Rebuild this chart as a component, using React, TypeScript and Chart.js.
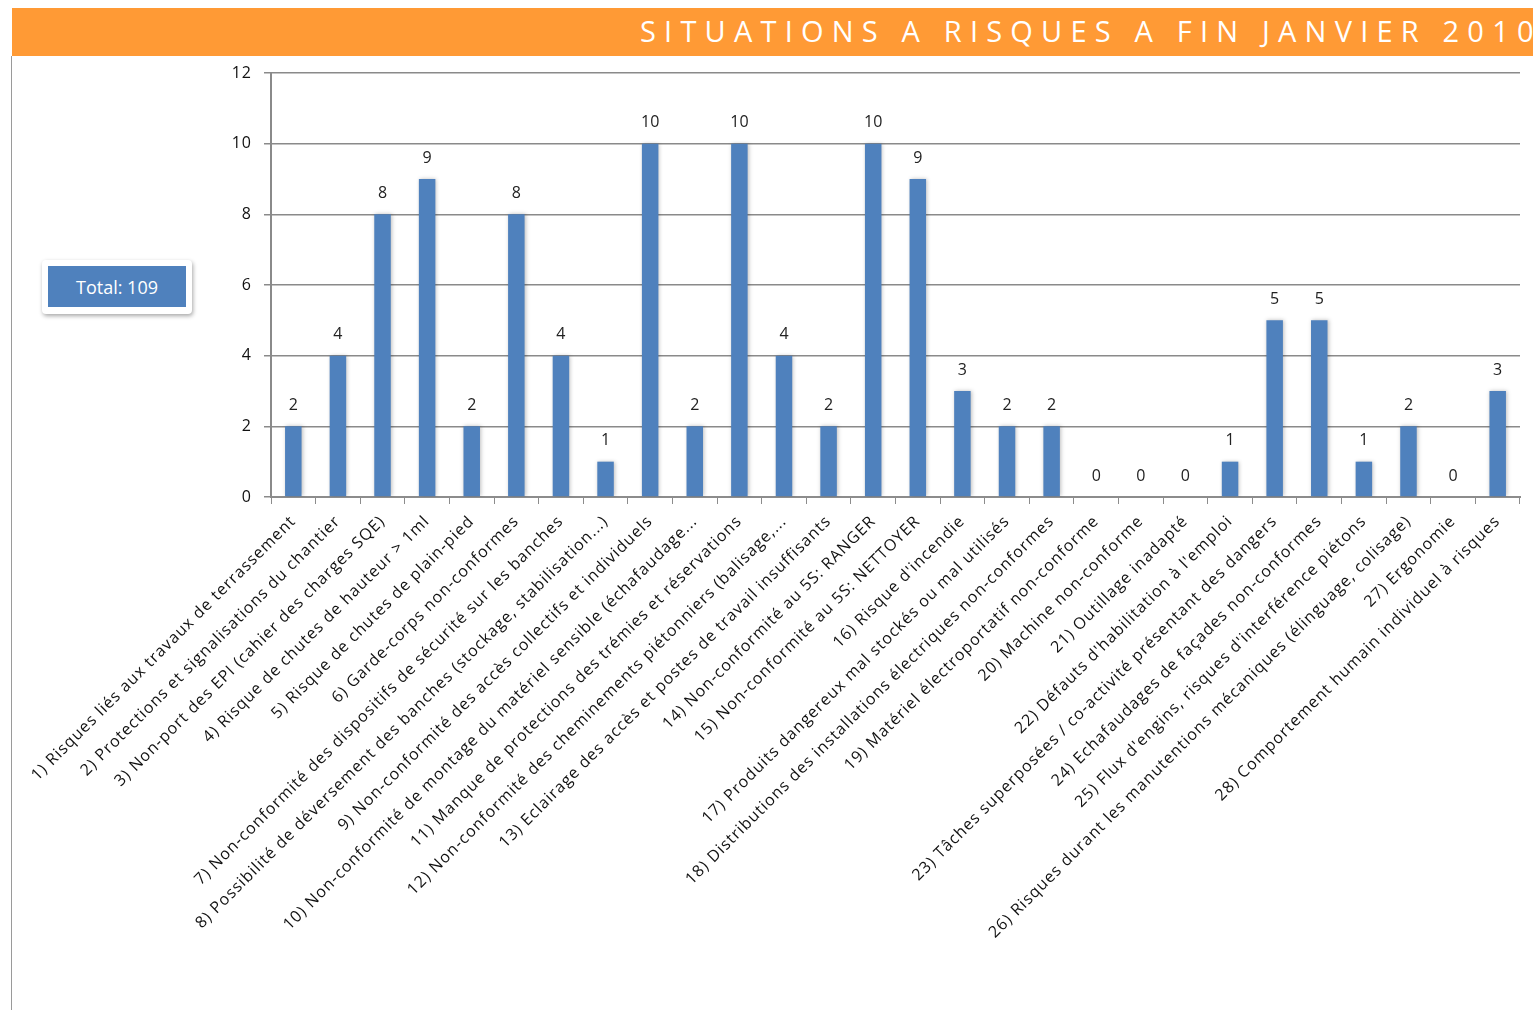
import React, { useEffect, useRef } from "react";
import { Chart, registerables } from "chart.js";
Chart.register(...registerables);

const title = "SITUATIONS A RISQUES A FIN JANVIER 2010";
const totalLabel = "Total: 109";

const categories = [
  "1) Risques liés aux travaux de terrassement",
  "2) Protections et signalisations du chantier",
  "3) Non-port des EPI (cahier des charges SQE)",
  "4) Risque de chutes de hauteur > 1ml",
  "5) Risque de chutes de plain-pied",
  "6) Garde-corps non-conformes",
  "7) Non-conformité des dispositifs de sécurité sur les banches",
  "8) Possibilité de déversement des banches (stockage, stabilisation...)",
  "9) Non-conformité des accès collectifs et individuels",
  "10) Non-conformité de montage du matériel sensible (échafaudage...",
  "11) Manque de protections des trémies et réservations",
  "12) Non-conformité des cheminements piétonniers (balisage,...",
  "13) Eclairage des accès et postes de travail insuffisants",
  "14) Non-conformité au 5S: RANGER",
  "15) Non-conformité au 5S: NETTOYER",
  "16) Risque d'incendie",
  "17) Produits dangereux mal stockés ou mal utilisés",
  "18) Distributions des installations électriques non-conformes",
  "19) Matériel électroportatif non-conforme",
  "20) Machine non-conforme",
  "21) Outillage inadapté",
  "22) Défauts d'habilitation à l'emploi",
  "23) Tâches superposées / co-activité présentant des dangers",
  "24) Echafaudages de façades non-conformes",
  "25) Flux d'engins, risques d'interférence piétons",
  "26) Risques durant les manutentions mécaniques (élinguage, colisage)",
  "27) Ergonomie",
  "28) Comportement humain individuel à risques",
];

const values = [2, 4, 8, 9, 2, 8, 4, 1, 10, 2, 10, 4, 2, 10, 9, 3, 2, 2, 0, 0, 0, 1, 5, 5, 1, 2, 0, 3];

const yMin = 0;
const yMax = 12;
const yStep = 2;

const FONT = "'Open Sans', sans-serif";

const spacingPlugin = {
  id: "letterSpacing",
  beforeUpdate(chart: any) {
    (chart.ctx as any).letterSpacing = "1px";
  },
  beforeDraw(chart: any) {
    (chart.ctx as any).letterSpacing = "1px";
  },
};

const valueLabelPlugin = {
  id: "valueLabels",
  beforeDatasetsDraw(chart: any) {
    const ctx = chart.ctx;
    ctx.save();
    ctx.shadowColor = "rgba(0,0,0,0.25)";
    ctx.shadowBlur = 4;
    ctx.shadowOffsetX = 1;
    ctx.shadowOffsetY = 0;
  },
  afterDatasetsDraw(chart: any) {
    const ctx = chart.ctx;
    ctx.restore();
    ctx.save();
    (ctx as any).letterSpacing = "0px";
    ctx.font = `16px ${FONT}`;
    ctx.fillStyle = "#222";
    ctx.textAlign = "center";
    ctx.textBaseline = "middle";
    const meta = chart.getDatasetMeta(0);
    meta.data.forEach((bar: any, i: number) => {
      ctx.fillText(String(values[i]), bar.x, bar.y - 21);
    });
    ctx.restore();
  },
};

export default function App() {
  const ref = useRef<HTMLCanvasElement>(null);
  useEffect(() => {
    if (!ref.current) return;
    const chart = new Chart(ref.current, {
      type: "bar",
      data: {
        labels: categories,
        datasets: [
          {
            data: values,
            backgroundColor: "#4F81BD",
            borderWidth: 0,
            barPercentage: 0.37,
            categoryPercentage: 1,
          },
        ],
      },
      options: {
        responsive: false,
        animation: false,
        devicePixelRatio: 1,
        layout: { padding: { top: 17, right: 13, left: 0, bottom: 0 } },
        plugins: { legend: { display: false }, tooltip: { enabled: false }, title: { display: false } },
        scales: {
          x: {
            offset: true,
            grid: { display: true, drawOnChartArea: false, drawTicks: true, tickLength: 7, color: "#8c8c8c", lineWidth: 1 },
            border: { display: true, color: "#8c8c8c", width: 2 },
            ticks: {
              autoSkip: false,
              maxRotation: 45,
              minRotation: 45,
              color: "#111",
              font: { family: FONT, size: 16 },
              padding: 8,
            },
            afterFit: (scale: any) => {
              scale.height = 513;
            },
          },
          y: {
            min: yMin,
            max: yMax,
            ticks: { stepSize: yStep, color: "#111", font: { family: FONT, size: 16 }, padding: 12 },
            grid: { color: "#8a8a8a", lineWidth: 1.5, tickLength: 7, drawTicks: true },
            border: { display: true, color: "#8a8a8a", width: 2 },
            afterFit: (scale: any) => {
              scale.width = 259;
              scale.paddingTop = 0;
              scale.paddingBottom = 0;
            },
          },
        },
      },
      plugins: [spacingPlugin, valueLabelPlugin],
    });
    return () => chart.destroy();
  }, []);

  return (
    <div
      style={{
        position: "fixed",
        left: 0,
        top: 0,
        width: 1533,
        height: 1010,
        overflow: "hidden",
        background: "#fff",
      }}
    >
      <div
        style={{
          position: "absolute",
          left: 12,
          top: 8,
          width: 1521,
          height: 48,
          background: "#FF9A35",
          overflow: "hidden",
        }}
      >
        <div
          style={{
            position: "absolute",
            left: 628,
            top: 3,
            whiteSpace: "nowrap",
            color: "#fff",
            fontFamily: FONT,
            fontSize: 29,
            letterSpacing: 8.2,
            lineHeight: "40px",
          }}
        >
          {title}
        </div>
      </div>
      <div style={{ position: "absolute", left: 11, top: 56, width: 1, height: 954, background: "#9a9a9a" }} />
      <canvas ref={ref} width={1521} height={954} style={{ position: "absolute", left: 12, top: 56 }} />
      <div
        style={{
          position: "absolute",
          left: 42,
          top: 260,
          width: 150,
          height: 54,
          background: "#fff",
          borderRadius: 4,
          boxShadow: "1px 2px 4px rgba(0,0,0,0.35)",
        }}
      >
        <div
          style={{
            position: "absolute",
            left: 6,
            top: 6,
            width: 138,
            height: 41,
            background: "#4F81BD",
            color: "#fff",
            fontFamily: FONT,
            fontSize: 18,
            display: "flex",
            alignItems: "center",
            justifyContent: "center",
          }}
        >
          {totalLabel}
        </div>
      </div>
    </div>
  );
}
